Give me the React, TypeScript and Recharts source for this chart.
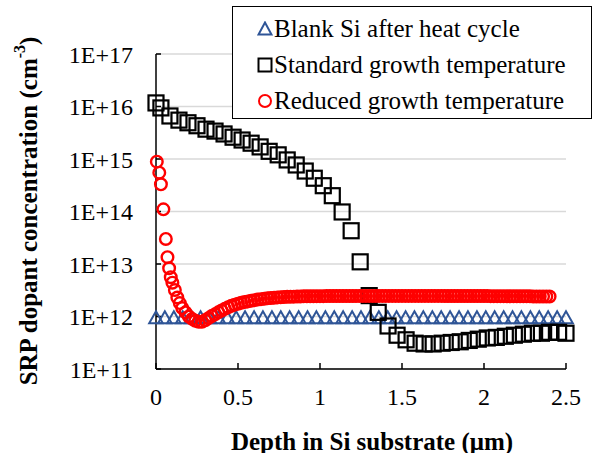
import React from "react";
import {
  ScatterChart,
  Scatter,
  XAxis,
  YAxis,
  CartesianGrid,
  Legend,
} from "recharts";

// Blank Si after heat cycle (triangles)
const blankDepth = [
  0, 0.054, 0.109, 0.163, 0.217, 0.272, 0.326, 0.38, 0.435, 0.489, 0.543, 0.598,
  0.652, 0.707, 0.761, 0.815, 0.87, 0.924, 0.978, 1.033, 1.087, 1.141, 1.196,
  1.25, 1.304, 1.359, 1.413, 1.467, 1.522, 1.576, 1.63, 1.685, 1.739, 1.793,
  1.848, 1.902, 1.957, 2.011, 2.065, 2.12, 2.174, 2.228, 2.283, 2.337, 2.391,
  2.446, 2.5,
];
const blankConc = [
  9.5e11, 9.5e11, 9.5e11, 9.5e11, 9.5e11, 9.5e11, 9.5e11, 9.5e11, 9.5e11,
  9.5e11, 9.5e11, 9.5e11, 9.5e11, 9.5e11, 9.5e11, 9.5e11, 9.5e11, 9.5e11,
  9.5e11, 9.5e11, 9.5e11, 9.5e11, 9.5e11, 9.5e11, 9.5e11, 9.5e11, 9.5e11,
  9.5e11, 9.5e11, 9.5e11, 9.5e11, 9.5e11, 9.5e11, 9.5e11, 9.5e11, 9.5e11,
  9.5e11, 9.5e11, 9.5e11, 9.5e11, 9.5e11, 9.5e11, 9.5e11, 9.5e11, 9.5e11,
  9.5e11, 9.5e11,
];

// Standard growth temperature (squares)
const standardDepth = [
  0, 0.03, 0.085, 0.14, 0.195, 0.25, 0.305, 0.36, 0.415, 0.47, 0.525, 0.58,
  0.635, 0.69, 0.745, 0.8, 0.855, 0.91, 0.965, 1.02, 1.075, 1.135, 1.19, 1.245,
  1.3, 1.355, 1.415, 1.47, 1.525, 1.58, 1.635, 1.69, 1.745, 1.8, 1.855, 1.91,
  1.965, 2.02, 2.075, 2.13, 2.185, 2.24, 2.295, 2.35, 2.4, 2.455, 2.5,
];
const standardConc = [
  1.17e16, 9.4e15, 6.6e15, 5.5e15, 4.9e15, 4.3e15, 3.7e15, 3.4e15, 3.0e15,
  2.6e15, 2.3e15, 2.0e15, 1.7e15, 1.4e15, 1.2e15, 9.6e14, 7.7e14, 5.9e14,
  4.3e14, 3.1e14, 2.0e14, 9.8e13, 4.3e13, 1.1e13, 2.5e12, 1.2e12, 6.6e11,
  4.4e11, 3.6e11, 3.1e11, 3.0e11, 3.0e11, 3.1e11, 3.2e11, 3.3e11, 3.5e11,
  3.7e11, 3.9e11, 4.0e11, 4.2e11, 4.4e11, 4.6e11, 4.8e11, 4.8e11, 5.0e11,
  5.0e11, 4.8e11,
];

// Reduced growth temperature (circles)
const reducedDepth = [
  0.005, 0.02, 0.03, 0.045, 0.06, 0.07, 0.08, 0.09, 0.1, 0.115, 0.13, 0.145,
  0.16, 0.18, 0.2, 0.22, 0.24, 0.26, 0.28, 0.3, 0.32, 0.34, 0.36, 0.38, 0.4,
  0.42, 0.44, 0.46, 0.48, 0.5, 0.52, 0.54, 0.56, 0.58, 0.6, 0.62, 0.64, 0.66,
  0.68, 0.7, 0.72, 0.74, 0.76, 0.78, 0.8, 0.82, 0.84, 0.86, 0.88, 0.9, 0.92,
  0.94, 0.96, 0.98, 1.0, 1.02, 1.04, 1.06, 1.08, 1.1, 1.12, 1.14, 1.16, 1.18,
  1.2, 1.22, 1.24, 1.26, 1.28, 1.3, 1.32, 1.34, 1.36, 1.38, 1.4, 1.42, 1.44,
  1.46, 1.48, 1.5, 1.52, 1.54, 1.56, 1.58, 1.6, 1.62, 1.64, 1.66, 1.68, 1.7,
  1.72, 1.74, 1.76, 1.78, 1.8, 1.82, 1.84, 1.86, 1.88, 1.9, 1.92, 1.94, 1.96,
  1.98, 2.0, 2.02, 2.04, 2.06, 2.08, 2.1, 2.12, 2.14, 2.16, 2.18, 2.2, 2.22,
  2.24, 2.26, 2.28, 2.3, 2.32, 2.34, 2.36, 2.38, 2.4, 2.42,
];
const reducedConc = [
  8.9e14, 5.5e14, 3.3e14, 1.1e14, 3.0e13, 1.35e13, 8.3e12, 5.6e12, 4.4e12,
  3.2e12, 2.3e12, 1.8e12, 1.45e12, 1.2e12, 1.0e12, 9.0e11, 8.3e11, 7.9e11,
  7.9e11, 8.5e11, 9.3e11, 1.02e12, 1.1e12, 1.2e12, 1.3e12, 1.4e12, 1.5e12,
  1.6e12, 1.68e12, 1.75e12, 1.82e12, 1.88e12, 1.94e12, 2.0e12, 2.05e12,
  2.1e12, 2.14e12, 2.18e12, 2.22e12, 2.25e12, 2.28e12, 2.31e12, 2.33e12,
  2.35e12, 2.37e12, 2.38e12, 2.39e12, 2.4e12, 2.41e12, 2.42e12, 2.42e12,
  2.43e12, 2.43e12, 2.44e12, 2.44e12, 2.44e12, 2.45e12, 2.45e12, 2.45e12,
  2.45e12, 2.46e12, 2.46e12, 2.46e12, 2.46e12, 2.46e12, 2.46e12, 2.47e12,
  2.47e12, 2.47e12, 2.47e12, 2.47e12, 2.47e12, 2.47e12, 2.47e12, 2.47e12,
  2.47e12, 2.47e12, 2.47e12, 2.47e12, 2.47e12, 2.47e12, 2.47e12, 2.47e12,
  2.47e12, 2.47e12, 2.47e12, 2.47e12, 2.47e12, 2.47e12, 2.47e12, 2.47e12,
  2.47e12, 2.46e12, 2.46e12, 2.46e12, 2.46e12, 2.46e12, 2.46e12, 2.46e12,
  2.46e12, 2.45e12, 2.45e12, 2.45e12, 2.45e12, 2.45e12, 2.45e12, 2.44e12,
  2.44e12, 2.44e12, 2.44e12, 2.44e12, 2.43e12, 2.43e12, 2.43e12, 2.43e12,
  2.42e12, 2.42e12, 2.42e12, 2.42e12, 2.41e12, 2.41e12, 2.41e12, 2.4e12,
  2.4e12, 2.4e12,
];

const xTicks = [0, 0.5, 1, 1.5, 2, 2.5];
const yTicks = [1e11, 1e12, 1e13, 1e14, 1e15, 1e16, 1e17];

const legendItems = [
  { key: "blank", label: "Blank Si after heat cycle" },
  { key: "standard", label: "Standard growth temperature" },
  { key: "reduced", label: "Reduced growth temperature" },
];

const FONT = '"Liberation Serif", "Times New Roman", serif';
const BLUE = "#2f5597";
const RED = "#ff0000";

const toPoints = (xs: number[], ys: number[]) =>
  xs.map((x, i) => ({ x, y: ys[i] }));

const TriangleShape = (p: any) => (
  <polygon
    points={`${p.cx},${p.cy - 6.5} ${p.cx - 6.8},${p.cy + 5.5} ${p.cx + 6.8},${p.cy + 5.5}`}
    fill="none"
    stroke={BLUE}
    strokeWidth={2}
  />
);

const SquareShape = (p: any) => (
  <rect
    x={p.cx - 7.5}
    y={p.cy - 7.5}
    width={15}
    height={15}
    fill="none"
    stroke="#000"
    strokeWidth={2.2}
  />
);

const CircleShape = (p: any) => (
  <circle cx={p.cx} cy={p.cy} r={5.8} fill="none" stroke={RED} strokeWidth={2.4} />
);

const LegendMarker = ({ kind }: { kind: string }) => (
  <svg width={16} height={16} style={{ display: "block" }}>
    {kind === "blank" && (
      <polygon points="8,1.5 1.5,13.5 14.5,13.5" fill="none" stroke={BLUE} strokeWidth={2} />
    )}
    {kind === "standard" && (
      <rect x={1.5} y={1.5} width={13} height={13} fill="none" stroke="#000" strokeWidth={2} />
    )}
    {kind === "reduced" && (
      <circle cx={8} cy={8} r={6} fill="none" stroke={RED} strokeWidth={2} />
    )}
  </svg>
);

const CustomLegend = () => (
  <div
    style={{
      boxSizing: "border-box",
      width: 360,
      height: 113,
      border: "1.5px solid #000",
      background: "#fff",
      padding: "4px 0 0 24px",
      fontFamily: FONT,
      fontSize: 25,
      color: "#000",
    }}
  >
    {legendItems.map((item) => (
      <div
        key={item.key}
        style={{ display: "flex", alignItems: "center", height: 36, whiteSpace: "nowrap" }}
      >
        <LegendMarker kind={item.key} />
        <span style={{ marginLeft: 1 }}>{item.label}</span>
      </div>
    ))}
  </div>
);

const renderYTitle = () => (
  <text
    x={28}
    y={211}
    transform="rotate(-90 28 211)"
    textAnchor="middle"
    dominantBaseline="central"
    fontFamily={FONT}
    fontWeight="bold"
    fontSize={25}
    fill="#000"
  >
    SRP dopant concentration (cm
    <tspan dy={-9} fontSize={16}>-3</tspan>
    <tspan dy={9}>)</tspan>
  </text>
);

const renderXTitle = () => (
  <text
    x={372}
    y={441}
    textAnchor="middle"
    dominantBaseline="central"
    fontFamily={FONT}
    fontWeight="bold"
    fontSize={25}
    fill="#000"
  >
    Depth in Si substrate (μm)
  </text>
);

const formatY = (v: number) => `1E+${Math.round(Math.log10(v))}`;

export default function App() {
  const tickStyle = { fontFamily: FONT, fontSize: 24, fill: "#000" };
  return (
    <div style={{ position: "absolute", left: 0, top: 0, width: 597, height: 453, background: "#fff" }}>
      <ScatterChart
        width={597}
        height={453}
        margin={{ top: 54, right: 31, bottom: 0, left: 0 }}
      >
        <CartesianGrid vertical={false} stroke="#d9d9d9" strokeWidth={1.5} />
        <XAxis
          type="number"
          dataKey="x"
          domain={[0, 2.5]}
          ticks={xTicks}
          height={84}
          tick={tickStyle}
          tickSize={-6}
          tickMargin={25}
          axisLine={{ stroke: "#000", strokeWidth: 1.5 }}
          tickLine={{ stroke: "#000", strokeWidth: 1.5 }}
          label={renderXTitle}
        />
        <YAxis
          type="number"
          dataKey="y"
          scale="log"
          domain={[1e11, 1e17]}
          ticks={yTicks}
          allowDataOverflow
          width={156}
          tick={tickStyle}
          tickFormatter={formatY}
          tickSize={-5}
          tickMargin={28}
          axisLine={{ stroke: "#000", strokeWidth: 1.5 }}
          tickLine={{ stroke: "#000", strokeWidth: 1.5 }}
          label={renderYTitle}
        />
        <Legend
          layout="vertical"
          align="center"
          verticalAlign="middle"
          content={<CustomLegend />}
          wrapperStyle={{ left: 232, top: 6, width: 360, height: 113 }}
        />
        <Scatter
          name="Blank Si after heat cycle"
          data={toPoints(blankDepth, blankConc)}
          shape={TriangleShape}
          isAnimationActive={false}
        />
        <Scatter
          name="Standard growth temperature"
          data={toPoints(standardDepth, standardConc)}
          shape={SquareShape}
          isAnimationActive={false}
        />
        <Scatter
          name="Reduced growth temperature"
          data={toPoints(reducedDepth, reducedConc)}
          shape={CircleShape}
          isAnimationActive={false}
        />
      </ScatterChart>
    </div>
  );
}
